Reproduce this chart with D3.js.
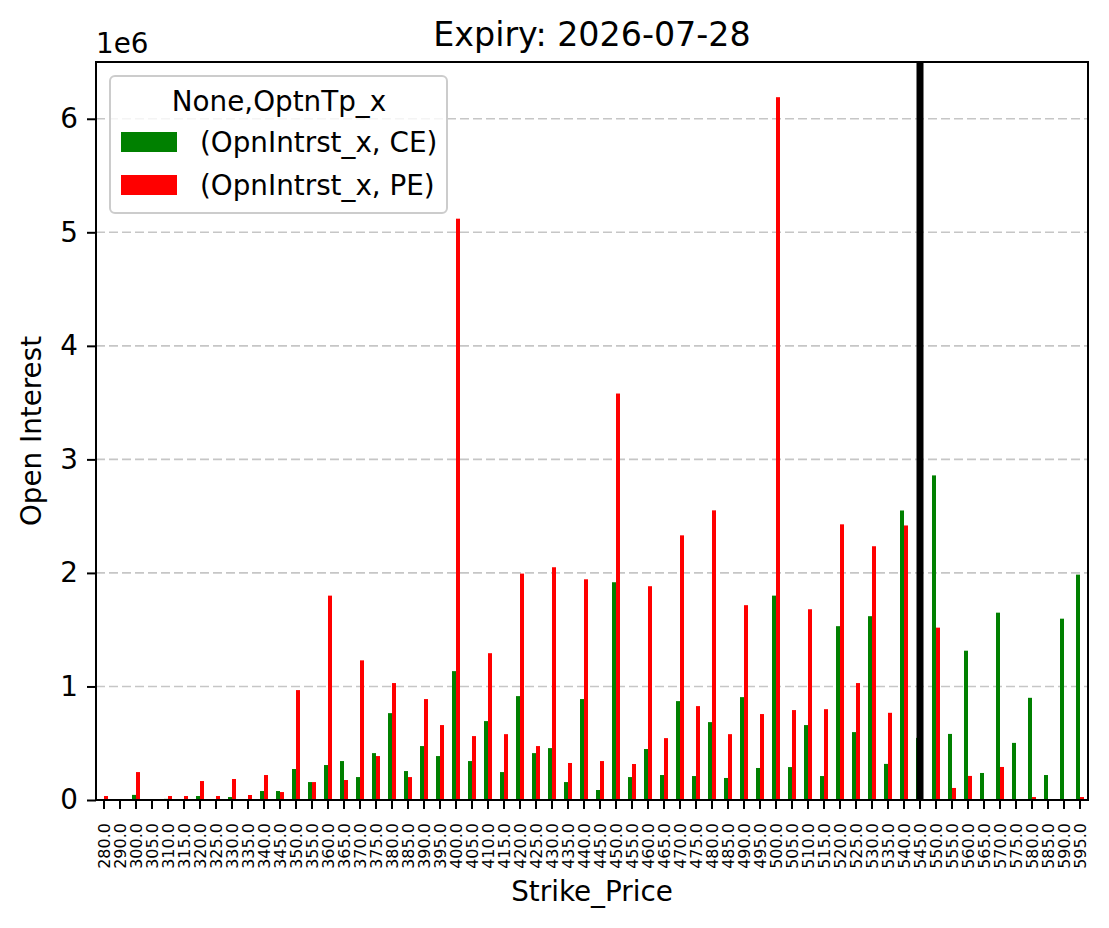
<!DOCTYPE html>
<html>
<head>
<meta charset="utf-8">
<script src="https://cdn.jsdelivr.net/npm/d3@7/dist/d3.min.js"></script>
<style>
    body { margin: 0; background: #fff; }
    svg text { font-family: "DejaVu Sans", sans-serif; fill: #000; }
</style>
</head>
<body>
<svg width="1109" height="928"></svg>
<script>
"use strict";
var strikes = [280, 290, 300, 305, 310, 315, 320, 325, 330, 335, 340, 345, 350, 355, 360, 365, 370, 375,
    380, 385, 390, 395, 400, 405, 410, 415, 420, 425, 430, 435, 440, 445, 450, 455, 460, 465, 470, 475,
    480, 485, 490, 495, 500, 505, 510, 515, 520, 525, 530, 535, 540, 545, 550, 555, 560, 565, 570, 575,
    580, 585, 590, 595];
var ceOI = [0, 0, 45000, 0, 10000, 0, 35000, 0, 26000, 0, 79000, 79000, 273000, 158000, 308000, 343000,
    202000, 413000, 765000, 255000, 475000, 387000, 1135000, 343000, 695000, 246000, 915000, 413000,
    457000, 158000, 889000, 88000, 1918000, 202000, 449000, 220000, 871000, 211000, 686000, 194000,
    906000, 282000, 1800000, 290000, 660000, 211000, 1531000, 598000, 1619000, 318000, 2550000, 547000,
    2859000, 582000, 1315000, 238000, 1650000, 503000, 900000, 220000, 1597000, 1985000];
var peOI = [35000, 0, 246000, 0, 35000, 35000, 167000, 35000, 185000, 44000, 220000, 70000, 968000,
    158000, 1800000, 176000, 1230000, 387000, 1030000, 202000, 889000, 660000, 5120000, 563000, 1293000,
    580000, 1994000, 475000, 2050000, 326000, 1944000, 343000, 3580000, 317000, 1883000, 545000, 2331000,
    827000, 2551000, 580000, 1716000, 757000, 6190000, 792000, 1680000, 800000, 2428000, 1030000,
    2235000, 768000, 2418000, 0, 1518000, 106000, 212000, 0, 291000, 0, 26000, 0, 0, 26000];
var yTicks = [0, 1e6, 2e6, 3e6, 4e6, 5e6, 6e6];
var seriesNames = ["(OpnIntrst_x, CE)", "(OpnIntrst_x, PE)"];
var seriesColors = ["green", "red"];
var spotStrike = 545;

var plotLeft = 96, plotRight = 1088, plotTop = 62, plotBottom = 800;
var svg = d3.select("svg");

var x = d3.scaleBand().domain(strikes).range([plotLeft, plotRight]).padding(0);
var y = d3.scaleLinear().domain([0, 6.5e6]).range([plotBottom, plotTop]);
var bw = x.bandwidth();

// GRID
svg.append("g").selectAll("line")
    .data(yTicks.slice(1))
    .enter().append("line")
    .attr("x1", plotLeft).attr("x2", plotRight)
    .attr("y1", function (d) { return y(d); })
    .attr("y2", function (d) { return y(d); })
    .attr("stroke", "#c6c6c6")
    .attr("stroke-width", 1.6)
    .attr("stroke-dasharray", "9,4");

// BARS
var rows = strikes.map(function (s, i) {
    return { strike: s, ce: ceOI[i], pe: peOI[i] };
});
var bars = svg.append("g");
bars.selectAll("rect.ce")
    .data(rows)
    .enter().append("rect")
    .attr("class", "ce")
    .attr("x", function (d) { return x(d.strike) + bw / 4; })
    .attr("width", bw / 4)
    .attr("y", function (d) { return y(d.ce); })
    .attr("height", function (d) { return plotBottom - y(d.ce); })
    .attr("fill", seriesColors[0]);
bars.selectAll("rect.pe")
    .data(rows)
    .enter().append("rect")
    .attr("class", "pe")
    .attr("x", function (d) { return x(d.strike) + bw / 2; })
    .attr("width", bw / 4)
    .attr("y", function (d) { return y(d.pe); })
    .attr("height", function (d) { return plotBottom - y(d.pe); })
    .attr("fill", seriesColors[1]);

// spot line
svg.append("line")
    .attr("x1", x(spotStrike) + bw / 2).attr("x2", x(spotStrike) + bw / 2)
    .attr("y1", plotTop).attr("y2", plotBottom)
    .attr("stroke", "#000")
    .attr("stroke-width", 7);

// AXES
var xAxis = d3.axisBottom(x).tickSize(9).tickPadding(8).tickFormat(d3.format(".1f"));
var gx = svg.append("g").attr("transform", "translate(0," + plotBottom + ")").call(xAxis);
gx.select(".domain").remove();
gx.selectAll(".tick line").attr("stroke-width", 2);
gx.selectAll(".tick text")
    .attr("transform", "rotate(-90)")
    .attr("x", -23).attr("y", 0).attr("dy", "0.35em")
    .style("text-anchor", "end")
    .style("font-size", "16px");

var yAxis = d3.axisLeft(y).tickValues(yTicks).tickSize(9).tickPadding(9)
    .tickFormat(function (d) { return d / 1e6; });
var gy = svg.append("g").attr("transform", "translate(" + plotLeft + ",0)").call(yAxis);
gy.select(".domain").remove();
gy.selectAll(".tick line").attr("stroke-width", 2);
gy.selectAll(".tick text").style("font-size", "27.8px");

svg.append("rect")
    .attr("x", plotLeft).attr("y", plotTop)
    .attr("width", plotRight - plotLeft).attr("height", plotBottom - plotTop)
    .attr("fill", "none").attr("stroke", "#000").attr("stroke-width", 2);

// LABELS
svg.append("text").attr("x", (plotLeft + plotRight) / 2).attr("y", 46)
    .attr("text-anchor", "middle").style("font-size", "33.3px")
    .text("Expiry: 2026-07-28");
svg.append("text").attr("x", plotLeft).attr("y", 53)
    .style("font-size", "27.8px").text("1e6");
svg.append("text").attr("x", (plotLeft + plotRight) / 2).attr("y", 901)
    .attr("text-anchor", "middle").style("font-size", "27.8px")
    .text("Strike_Price");
svg.append("text")
    .attr("transform", "translate(41," + (plotTop + plotBottom) / 2 + ") rotate(-90)")
    .attr("text-anchor", "middle").style("font-size", "27.8px")
    .text("Open Interest");

// LEGEND
var lg = svg.append("g");
lg.append("rect")
    .attr("x", 110).attr("y", 76).attr("width", 337).attr("height", 137)
    .attr("rx", 5).attr("ry", 5)
    .attr("fill", "#fff").attr("fill-opacity", 0.8)
    .attr("stroke", "#cccccc").attr("stroke-width", 2);
lg.append("text").attr("x", 279).attr("y", 111)
    .attr("text-anchor", "middle").style("font-size", "27.8px")
    .text("None,OptnTp_x");
var items = lg.selectAll("g.item")
    .data(seriesNames)
    .enter().append("g")
    .attr("class", "item")
    .attr("transform", function (d, i) { return "translate(0," + (i * 43) + ")"; });
items.append("rect")
    .attr("x", 121).attr("y", 132).attr("width", 56).attr("height", 20)
    .attr("fill", function (d, i) { return seriesColors[i]; });
items.append("text")
    .attr("x", 200).attr("y", 152)
    .style("font-size", "27.8px")
    .text(function (d) { return d; });
</script>
</body>
</html>
